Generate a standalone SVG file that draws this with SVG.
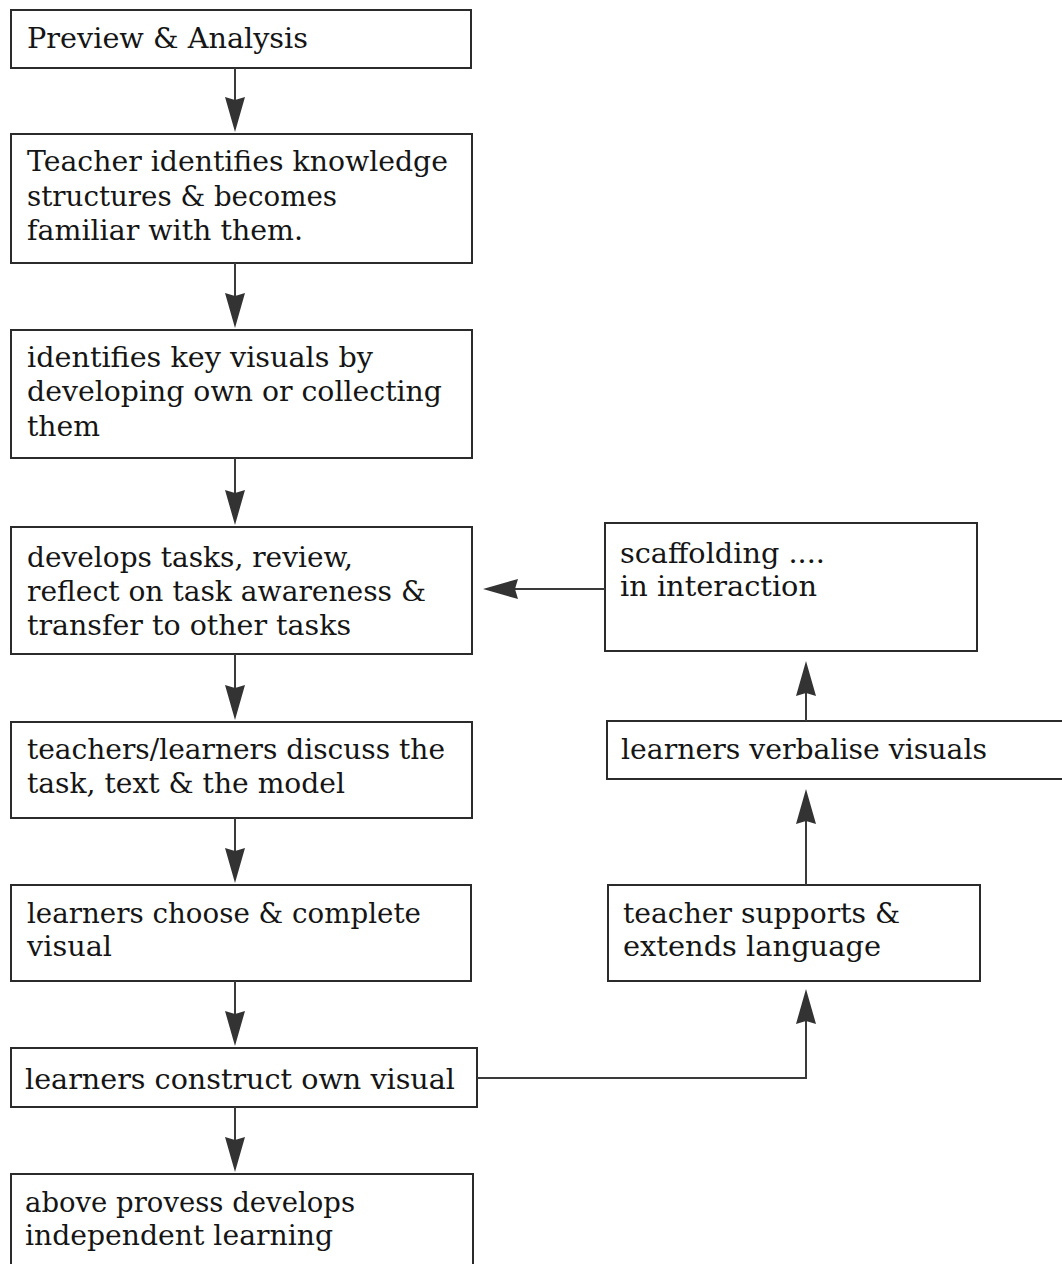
<svg xmlns="http://www.w3.org/2000/svg" width="1062" height="1264" viewBox="0 0 1062 1264">
  <style>
    .box { fill: #ffffff; stroke: #2b2b2b; stroke-width: 2; }
    .lbl { font-family: "DejaVu Serif", "Liberation Serif", serif; font-size: 27px; fill: #151515; }
    .wire { fill: none; stroke: #3a3a3a; stroke-width: 2; }
  </style>
  <defs>
    <!-- notched, dark arrowhead; the tip sits 20px past the line end -->
    <marker id="head" markerUnits="userSpaceOnUse" markerWidth="36" markerHeight="22" viewBox="0 0 36 22" refX="15" refY="11" orient="auto">
      <path d="M0,1 L35,11 L0,21 L3,11 Z" fill="#333333"/>
    </marker>
  </defs>

  <rect width="1062" height="1264" fill="#ffffff"/>

  <!-- left column -->
  <g id="preview">
    <rect class="box" x="11" y="10" width="460" height="58"/>
    <text class="lbl" x="27" y="48" textLength="281" lengthAdjust="spacingAndGlyphs">Preview &amp; Analysis</text>
  </g>

  <g id="identify-structures">
    <rect class="box" x="11" y="134" width="461" height="129"/>
    <text class="lbl" x="27" y="171" textLength="421" lengthAdjust="spacingAndGlyphs">Teacher identifies knowledge</text>
    <text class="lbl" x="27" y="206" textLength="310" lengthAdjust="spacingAndGlyphs">structures &amp; becomes</text>
    <text class="lbl" x="27" y="240" textLength="276" lengthAdjust="spacingAndGlyphs">familiar with them.</text>
  </g>

  <g id="key-visuals">
    <rect class="box" x="11" y="330" width="461" height="128"/>
    <text class="lbl" x="27" y="367" textLength="346" lengthAdjust="spacingAndGlyphs">identifies key visuals by</text>
    <text class="lbl" x="27" y="401" textLength="415" lengthAdjust="spacingAndGlyphs">developing own or collecting</text>
    <text class="lbl" x="27" y="436" textLength="73" lengthAdjust="spacingAndGlyphs">them</text>
  </g>

  <g id="develop-tasks">
    <rect class="box" x="11" y="527" width="461" height="127"/>
    <text class="lbl" x="27" y="567" textLength="326" lengthAdjust="spacingAndGlyphs">develops tasks, review,</text>
    <text class="lbl" x="27" y="601" textLength="399" lengthAdjust="spacingAndGlyphs">reflect on task awareness &amp;</text>
    <text class="lbl" x="27" y="635" textLength="324" lengthAdjust="spacingAndGlyphs">transfer to other tasks</text>
  </g>

  <g id="discuss">
    <rect class="box" x="11" y="722" width="461" height="96"/>
    <text class="lbl" x="27" y="759" textLength="418" lengthAdjust="spacingAndGlyphs">teachers/learners discuss the</text>
    <text class="lbl" x="27" y="793" textLength="318" lengthAdjust="spacingAndGlyphs">task, text &amp; the model</text>
  </g>

  <g id="choose-complete">
    <rect class="box" x="11" y="885" width="460" height="96"/>
    <text class="lbl" x="27" y="923" textLength="394" lengthAdjust="spacingAndGlyphs">learners choose &amp; complete</text>
    <text class="lbl" x="27" y="956" textLength="85" lengthAdjust="spacingAndGlyphs">visual</text>
  </g>

  <g id="construct">
    <rect class="box" x="11" y="1048" width="466" height="59"/>
    <text class="lbl" x="25" y="1089" textLength="430" lengthAdjust="spacingAndGlyphs">learners construct own visual</text>
  </g>

  <g id="independent">
    <rect class="box" x="11" y="1174" width="462" height="110"/>
    <text class="lbl" x="25" y="1212" textLength="330" lengthAdjust="spacingAndGlyphs">above provess develops</text>
    <text class="lbl" x="25" y="1245" textLength="308" lengthAdjust="spacingAndGlyphs">independent learning</text>
  </g>

  <!-- right column -->
  <g id="scaffolding">
    <rect class="box" x="605" y="523" width="372" height="128"/>
    <text class="lbl" x="620" y="563" textLength="205" lengthAdjust="spacingAndGlyphs">scaffolding ....</text>
    <text class="lbl" x="620" y="596" textLength="197" lengthAdjust="spacingAndGlyphs">in interaction</text>
  </g>

  <g id="verbalise">
    <rect class="box" x="607" y="721" width="470" height="58"/>
    <text class="lbl" x="621" y="759" textLength="366" lengthAdjust="spacingAndGlyphs">learners verbalise visuals</text>
  </g>

  <g id="teacher-supports">
    <rect class="box" x="608" y="885" width="372" height="96"/>
    <text class="lbl" x="623" y="923" textLength="277" lengthAdjust="spacingAndGlyphs">teacher supports &amp;</text>
    <text class="lbl" x="623" y="956" textLength="258" lengthAdjust="spacingAndGlyphs">extends language</text>
  </g>

  <!-- connectors -->
  <g id="connectors">
    <path class="wire" d="M235,68 V112" marker-end="url(#head)"/>
    <path class="wire" d="M235,263 V308" marker-end="url(#head)"/>
    <path class="wire" d="M235,458 V505" marker-end="url(#head)"/>
    <path class="wire" d="M235,654 V700" marker-end="url(#head)"/>
    <path class="wire" d="M235,818 V863" marker-end="url(#head)"/>
    <path class="wire" d="M235,981 V1026" marker-end="url(#head)"/>
    <path class="wire" d="M235,1107 V1152" marker-end="url(#head)"/>
    <path class="wire" d="M605,589 H503" marker-end="url(#head)"/>
    <path class="wire" d="M806,721 V681" marker-end="url(#head)"/>
    <path class="wire" d="M806,885 V809" marker-end="url(#head)"/>
    <path class="wire" d="M477,1078 H806 V1009" marker-end="url(#head)"/>
  </g>
</svg>
